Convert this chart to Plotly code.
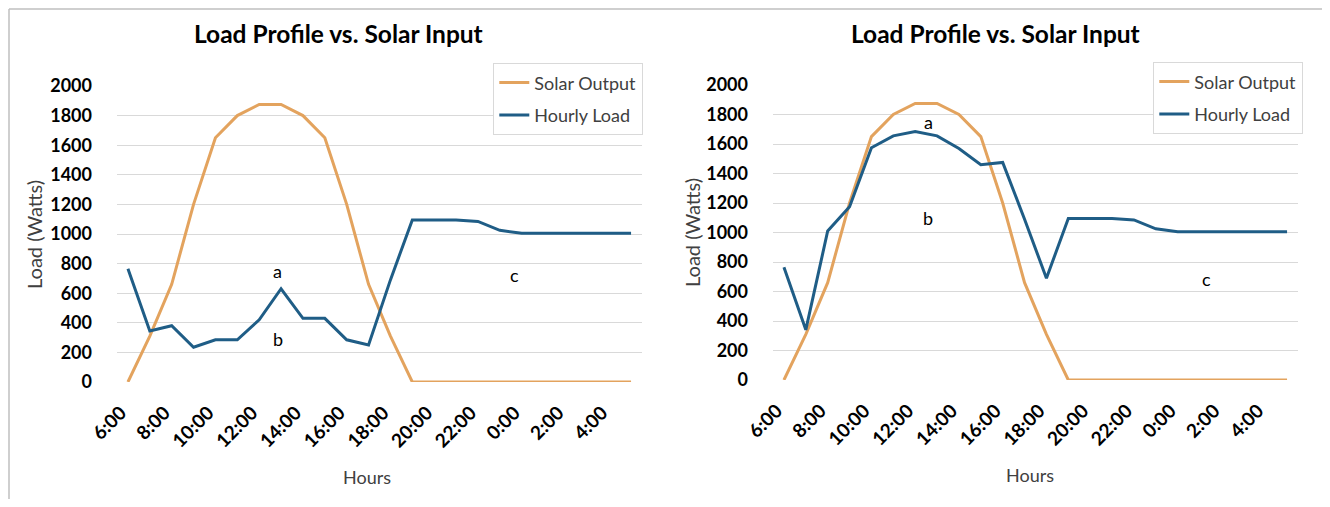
import plotly.graph_objects as go

hours = ["6:00", "7:00", "8:00", "9:00", "10:00", "11:00", "12:00", "13:00", "14:00",
         "15:00", "16:00", "17:00", "18:00", "19:00", "20:00", "21:00", "22:00", "23:00",
         "0:00", "1:00", "2:00", "3:00", "4:00", "5:00"]
tick_labels = ["6:00", "8:00", "10:00", "12:00", "14:00", "16:00", "18:00", "20:00",
               "22:00", "0:00", "2:00", "4:00"]

solar_output = [0, 310, 660, 1200, 1650, 1800, 1875, 1875, 1800, 1650, 1200, 660, 310, 0,
                0, 0, 0, 0, 0, 0, 0, 0, 0, 0]
load_left = [765, 345, 380, 235, 285, 285, 420, 630, 430, 430, 285, 250, 690, 1095,
             1095, 1095, 1085, 1025, 1005, 1005, 1005, 1005, 1005, 1005]
load_right = [765, 340, 1010, 1175, 1575, 1655, 1685, 1655, 1570, 1460, 1475, 1090, 690, 1095,
              1095, 1095, 1085, 1025, 1005, 1005, 1005, 1005, 1005, 1005]

title_text = "Load Profile vs. Solar Input"
x_title = "Hours"
y_title = "Load (Watts)"
SOLAR = "#E3A35E"
LOAD = "#1F5D86"
GRID = "#D9D9D9"
FONT = "Lato"

# page body has an 8px margin; size the figure so it fits the window
OFF = 8
W, H = 1330 - 2 * OFF, 507 - 2 * OFF

def px_x(v):
    return (v - OFF) / W

def px_y(v):
    return 1 - (v - OFF) / H

fig = go.Figure()

fig.add_trace(go.Scatter(x=hours, y=solar_output, mode="lines", name="Solar Output",
                         line=dict(color=SOLAR, width=3), xaxis="x", yaxis="y",
                         legend="legend", legendgroup="s1"))
fig.add_trace(go.Scatter(x=hours, y=load_left, mode="lines", name="Hourly Load",
                         line=dict(color=LOAD, width=3), xaxis="x", yaxis="y",
                         legend="legend", legendgroup="l1"))
fig.add_trace(go.Scatter(x=hours, y=solar_output, mode="lines", name="Solar Output",
                         line=dict(color=SOLAR, width=3), xaxis="x2", yaxis="y2",
                         legend="legend2", legendgroup="s2"))
fig.add_trace(go.Scatter(x=hours, y=load_right, mode="lines", name="Hourly Load",
                         line=dict(color=LOAD, width=3), xaxis="x2", yaxis="y2",
                         legend="legend2", legendgroup="l2"))

xcommon = dict(type="category", categoryorder="array", categoryarray=hours,
               range=[-0.5, len(hours) - 0.5], tickmode="array", tickvals=tick_labels,
               ticktext=tick_labels, tickangle=-45, showgrid=False, zeroline=False,
               showline=False, ticks="", automargin=False, ticklabelstandoff=15,
               ticklabelshift=-7,
               tickfont=dict(family=FONT, size=19, color="#000000", weight="bold"))
ycommon = dict(range=[0, 2000], dtick=200, showgrid=True, gridcolor=GRID, gridwidth=1.3,
               zeroline=False, showline=False, ticks="", automargin=False,
               ticklabelstandoff=24,
               tickfont=dict(family=FONT, size=18, color="#000000", weight="bold"))

legend_common = dict(xanchor="left", yanchor="top", bordercolor=GRID, borderwidth=1.3,
                     bgcolor="white", font=dict(family=FONT, size=18, color="#404040"),
                     tracegroupgap=6, itemwidth=30)

fig.update_layout(
    template="none",
    width=W, height=H, margin=dict(l=0, r=0, t=0, b=0, autoexpand=False),
    paper_bgcolor="white", plot_bgcolor="white",
    xaxis=dict(domain=[px_x(117), px_x(642)], anchor="y", **xcommon),
    yaxis=dict(domain=[px_y(382), px_y(86)], anchor="x", **ycommon),
    xaxis2=dict(domain=[px_x(773), px_x(1298)], anchor="y2", **xcommon),
    yaxis2=dict(domain=[px_y(380), px_y(85)], anchor="x2", **ycommon),
    legend=dict(x=px_x(493), y=px_y(63), **legend_common),
    legend2=dict(x=px_x(1153), y=px_y(62), **legend_common),
    showlegend=True,
)

for tx, ty in [(338, 33), (995, 33)]:
    fig.add_annotation(x=px_x(tx), y=px_y(ty), xref="paper", yref="paper",
                       text=title_text, showarrow=False, xanchor="center", yanchor="middle",
                       font=dict(family=FONT, size=24.5, color="#000000", weight="bold"))

for tx, ty in [(367, 477), (1030, 475)]:
    fig.add_annotation(x=px_x(tx), y=px_y(ty), xref="paper", yref="paper",
                       text=x_title, showarrow=False, xanchor="center", yanchor="middle",
                       font=dict(family=FONT, size=18, color="#404040"))

for tx, ty in [(34, 235), (692, 233)]:
    fig.add_annotation(x=px_x(tx), y=px_y(ty), xref="paper", yref="paper",
                       text=y_title, showarrow=False, xanchor="center", yanchor="middle",
                       textangle=-90, font=dict(family=FONT, size=20, color="#404040"))

labels_left = [("a", 6.85, 750), ("b", 6.85, 290), ("c", 17.65, 723)]
labels_right = [("a", 6.6, 1750), ("b", 6.6, 1100), ("c", 19.3, 685)]
for t, xv, yv in labels_left:
    fig.add_annotation(x=xv, y=yv, xref="x", yref="y", text=t, showarrow=False,
                       font=dict(family=FONT, size=18, color="#000000"))
for t, xv, yv in labels_right:
    fig.add_annotation(x=xv, y=yv, xref="x2", yref="y2", text=t, showarrow=False,
                       font=dict(family=FONT, size=18, color="#000000"))

# outer frame: only top and left edges are visible in the reference
frame = dict(color="#BFBFBF", width=1.5)
fig.add_shape(type="line", xref="paper", yref="paper",
              x0=1 / W, x1=1, y0=1 - 1 / H, y1=1 - 1 / H, line=frame, layer="below")
fig.add_shape(type="line", xref="paper", yref="paper",
              x0=1 / W, x1=1 / W, y0=0, y1=1 - 1 / H, line=frame, layer="below")

fig.write_html("out.html")
